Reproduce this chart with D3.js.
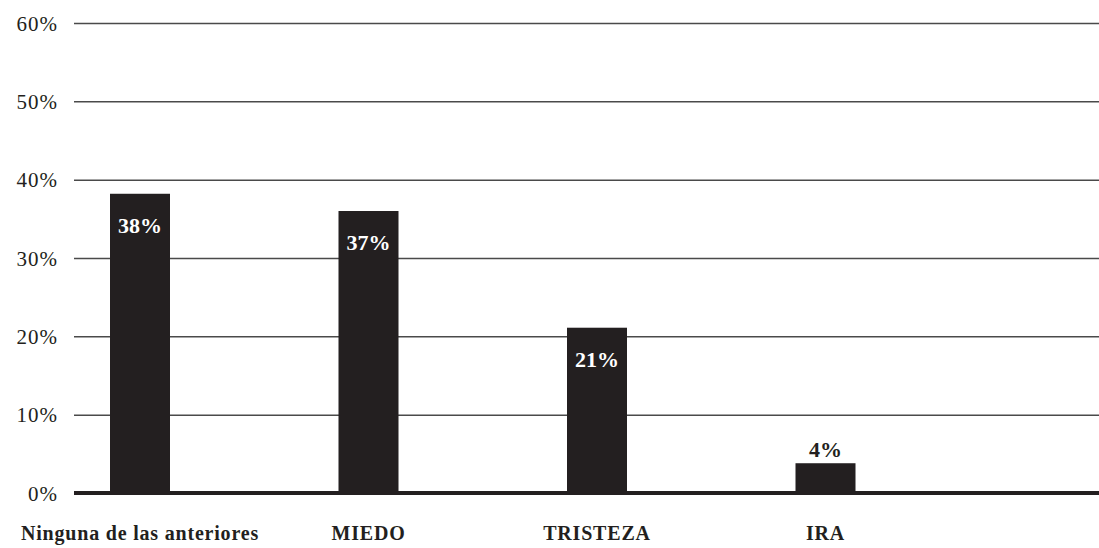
<!DOCTYPE html>
<html>
<head>
<meta charset="utf-8">
<script src="https://cdn.jsdelivr.net/npm/d3@7"></script>
<style>
    html, body { margin: 0; padding: 0; background: #fff; }
    svg text { font-family: "Liberation Serif", "Times New Roman", serif; }
</style>
</head>
<body>
<div id="chart"></div>
<script>
/*
 * Chart data.
 */
var categories = ['Ninguna de las anteriores', 'MIEDO', 'TRISTEZA', 'IRA'];
var values = [38.2, 36, 21.1, 3.8];
var valueLabels = ['38%', '37%', '21%', '4%'];
var yTicks = [0, 10, 20, 30, 40, 50, 60];

/*
 * Dimensions.
 */
var width = 1099;
var height = 548;
var left = 74;
var baseY = 493;
var topY = 23;
var barWidth = 60;

var svg = d3.select('#chart').append('svg')
    .attr('width', width)
    .attr('height', height);

var y = d3.scaleLinear()
    .domain([0, 60])
    .range([baseY, topY]);

var x = d3.scalePoint()
    .domain(categories)
    .range([140, 825.5]);

/*
 * Grid lines and tick labels.
 */
var axis = d3.axisLeft(y)
    .tickValues(yTicks)
    .tickSize(-(width - left))
    .tickPadding(16)
    .tickFormat(d => d + '%');

var g = svg.append('g')
    .attr('transform', 'translate(' + left + ',0)')
    .call(axis);

g.select('.domain').remove();
g.selectAll('.tick line')
    .attr('stroke', '#4a4a4a')
    .attr('stroke-width', 1.5);
g.selectAll('.tick text')
    .attr('fill', '#231f20')
    .attr('font-size', 21)
    .attr('letter-spacing', 1)
    .attr('dy', '0.34em');

/*
 * Bars.
 */
svg.selectAll('rect.bar')
    .data(values)
    .enter().append('rect')
    .attr('class', 'bar')
    .attr('x', (d, i) => x(categories[i]) - barWidth / 2)
    .attr('y', d => y(d))
    .attr('width', barWidth)
    .attr('height', d => baseY - y(d))
    .attr('fill', '#231f20');

/*
 * Baseline.
 */
svg.append('line')
    .attr('x1', left)
    .attr('x2', width)
    .attr('y1', baseY)
    .attr('y2', baseY)
    .attr('stroke', '#231f20')
    .attr('stroke-width', 4);

/*
 * Value labels: inside tall bars, above short ones.
 */
svg.selectAll('text.value')
    .data(values)
    .enter().append('text')
    .attr('class', 'value')
    .attr('x', (d, i) => x(categories[i]))
    .attr('y', d => d > 10 ? y(d) + 39 : y(d) - 6)
    .attr('text-anchor', 'middle')
    .attr('font-size', 22)
    .attr('font-weight', 'bold')
    .attr('fill', d => d > 10 ? '#ffffff' : '#231f20')
    .text((d, i) => valueLabels[i]);

/*
 * Category labels.
 */
svg.selectAll('text.category')
    .data(categories)
    .enter().append('text')
    .attr('class', 'category')
    .attr('x', d => x(d))
    .attr('y', 540)
    .attr('text-anchor', 'middle')
    .attr('font-size', 20)
    .attr('letter-spacing', 0.8)
    .attr('font-weight', 'bold')
    .attr('fill', '#231f20')
    .text(d => d);
</script>
</body>
</html>
